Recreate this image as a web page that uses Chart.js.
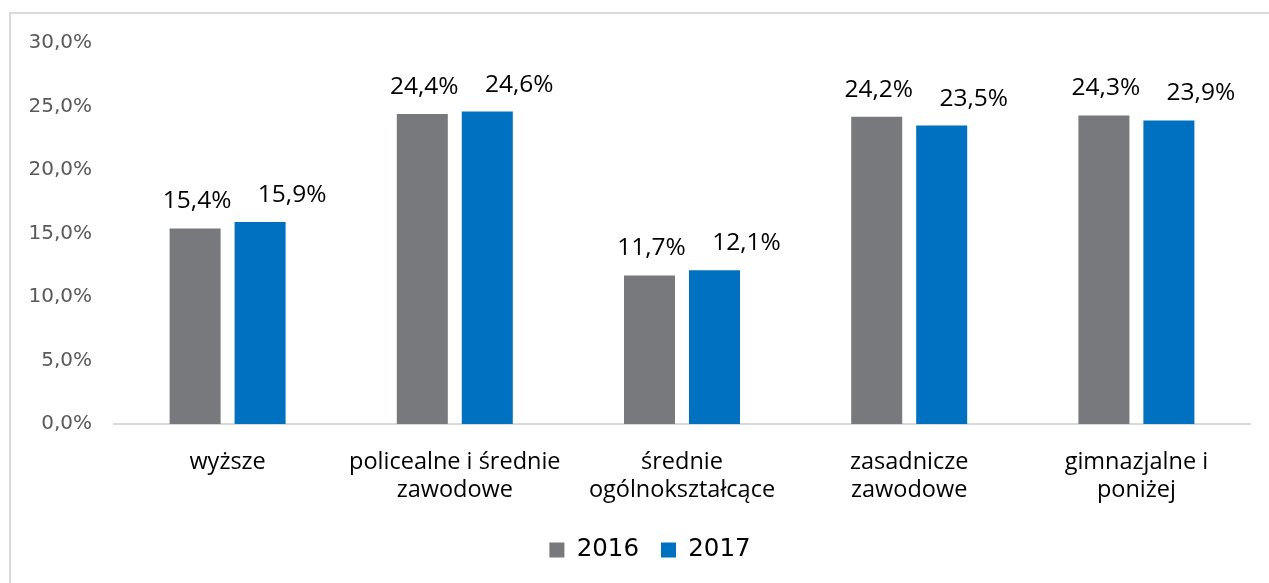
<!DOCTYPE html>
<html>
<head>
<meta charset="utf-8">
<script src="https://cdn.jsdelivr.net/npm/chart.js@4.4.0/dist/chart.umd.min.js"></script>
<style>
  html, body { margin: 0; padding: 0; background: #fff; overflow: hidden; }
  #wrap { position: relative; width: 1269px; height: 583px; }
  #frame { position: absolute; left: 9px; top: 12px; width: 2000px; height: 2000px; border: 2px solid #DADADA; box-sizing: border-box; }
  canvas { position: absolute; left: 0; top: 0; }
</style>
</head>
<body>
<div id="wrap">
  <div id="frame"></div>
  <canvas id="c" width="1269" height="583"></canvas>
</div>
<script>
const categories = [
  ["wyższe"],
  ["policealne i średnie", "zawodowe"],
  ["średnie", "ogólnokształcące"],
  ["zasadnicze", "zawodowe"],
  ["gimnazjalne i", "poniżej"]
];
const seriesNames = ["2016", "2017"];
const values2016 = [15.4, 24.4, 11.7, 24.2, 24.3];
const values2017 = [15.9, 24.6, 12.1, 23.5, 23.9];
const yTicks = [0, 5, 10, 15, 20, 25, 30];

const fmt = v => v.toFixed(1).replace('.', ',') + '%';

// horizontal shift of value labels per series (as in the original layout)
const labelShift = [2, 32];

const dataLabels = {
  id: 'dataLabels',
  afterDatasetsDraw(chart) {
    const ctx = chart.ctx;
    ctx.save();
    ctx.font = '24.5px "Open Sans"';
    ctx.fillStyle = '#000';
    ctx.textAlign = 'center';
    ctx.textBaseline = 'alphabetic';
    chart.data.datasets.forEach((ds, di) => {
      chart.getDatasetMeta(di).data.forEach((bar, i) => {
        ctx.fillText(fmt(ds.data[i]), bar.x + labelShift[di], bar.y - 20);
      });
    });
    ctx.restore();
  }
};

// legend in the original is centred a little right of the plot centre
const legendShift = {
  id: 'legendShift',
  afterLayout(chart) {
    if (chart.legend) {
      chart.legend.left += 25;
      chart.legend.right += 25;
    }
  }
};

new Chart(document.getElementById('c'), {
  type: 'bar',
  data: {
    labels: categories,
    datasets: [
      { label: seriesNames[0], data: values2016, backgroundColor: '#78797D' },
      { label: seriesNames[1], data: values2017, backgroundColor: '#0070C0' }
    ]
  },
  options: {
    responsive: false,
    animation: false,
    devicePixelRatio: 1,
    categoryPercentage: 0.572,
    barPercentage: 0.785,
    layout: { padding: { top: 43, right: 19, bottom: 10.75, left: 0 } },
    plugins: {
      tooltip: { enabled: false },
      legend: {
        position: 'bottom',
        labels: {
          boxWidth: 15,
          boxHeight: 15,
          padding: 22,
          color: '#000',
          font: { family: '"DejaVu Sans"', size: 24.5 }
        }
      }
    },
    scales: {
      x: {
        grid: { display: false, drawTicks: false },
        border: { display: true, color: '#D9D9D9', width: 2 },
        ticks: {
          color: '#000',
          padding: 24,
          maxRotation: 0,
          autoSkip: false,
          font: { family: '"Open Sans"', size: 23.5, lineHeight: 1.2 }
        },
        afterFit(scale) { scale.height = 91.75; }
      },
      y: {
        min: 0,
        max: 30,
        grid: { display: false, drawTicks: false },
        border: { display: false },
        afterBuildTicks(scale) { scale.ticks = yTicks.map(v => ({ value: v })); },
        ticks: {
          color: '#595959',
          padding: 22,
          font: { family: '"DejaVu Sans"', size: 20 },
          callback: v => fmt(v)
        },
        afterFit(scale) { scale.width = 114; }
      }
    }
  },
  plugins: [dataLabels, legendShift]
});
</script>
</body>
</html>
